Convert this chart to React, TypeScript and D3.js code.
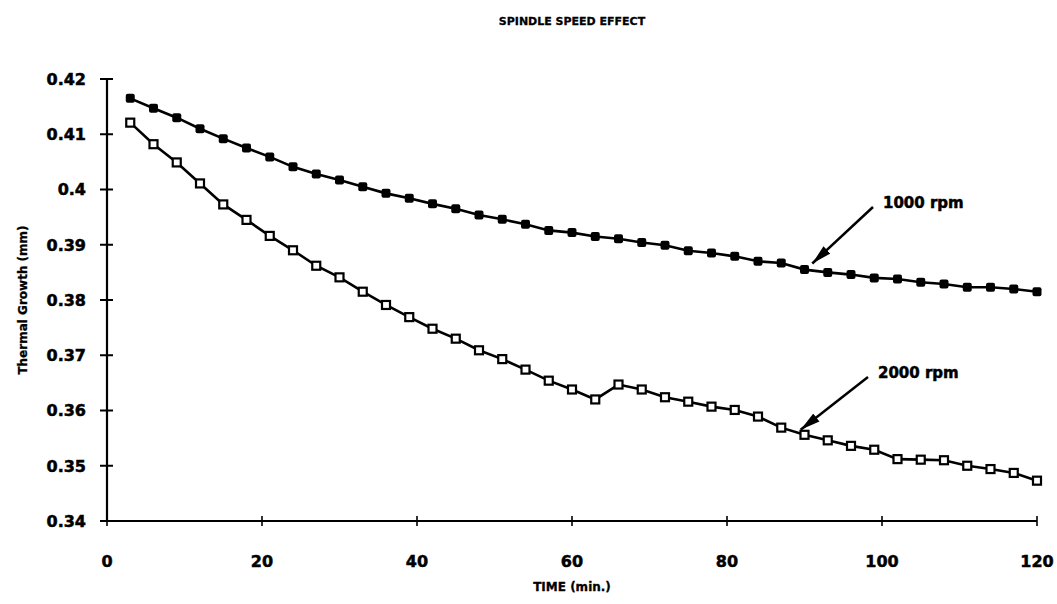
import React from "react";
import * as d3 from "d3";

const times = [3, 6, 9, 12, 15, 18, 21, 24, 27, 30, 33, 36, 39, 42, 45, 48, 51, 54, 57, 60, 63, 66, 69, 72, 75, 78, 81, 84, 87, 90, 93, 96, 99, 102, 105, 108, 111, 114, 117, 120];
const rpm1000 = [0.4165, 0.4147, 0.413, 0.411, 0.4092, 0.4075, 0.4059, 0.4041, 0.4028, 0.4017, 0.4005, 0.3993, 0.3984, 0.3974, 0.3965, 0.3954, 0.3946, 0.3937, 0.3926, 0.3922, 0.3915, 0.3911, 0.3904, 0.3899, 0.3889, 0.3885, 0.3879, 0.387, 0.3867, 0.3855, 0.385, 0.3846, 0.384, 0.3838, 0.3832, 0.3829, 0.3823, 0.3823, 0.382, 0.3815];
const rpm2000 = [0.4121, 0.4082, 0.4049, 0.4011, 0.3973, 0.3945, 0.3916, 0.389, 0.3862, 0.3841, 0.3815, 0.3791, 0.3769, 0.3748, 0.373, 0.3709, 0.3693, 0.3674, 0.3654, 0.3638, 0.362, 0.3647, 0.3638, 0.3624, 0.3616, 0.3607, 0.3601, 0.3589, 0.3569, 0.3556, 0.3546, 0.3536, 0.3529, 0.3512, 0.3511, 0.351, 0.35, 0.3494, 0.3487, 0.3473];
const yTicks = [0.34, 0.35, 0.36, 0.37, 0.38, 0.39, 0.4, 0.41, 0.42];
const xTicks = [0, 20, 40, 60, 80, 100, 120];
const title = "SPINDLE SPEED EFFECT";
const xTitle = "TIME (min.)";
const yTitle = "Thermal Growth (mm)";
const annotations = [
  { label: "1000 rpm", t: 91, v: 0.3866, tx: 883, ty: 203 },
  { label: "2000 rpm", t: 89.5, v: 0.3565, tx: 878, ty: 373 },
];

const W = 1057;
const H = 604;
const FONT = "'DejaVu Sans', 'Liberation Sans', Arial, sans-serif";

export default function App() {
  const x = d3.scaleLinear().domain([0, 120]).range([107, 1037]);
  const y = d3.scaleLinear().domain([0.34, 0.42]).range([521, 79]);
  const line = d3
    .line<number>()
    .x((_, i) => x(times[i]))
    .y((d) => y(d));
  const ms = 9;
  const heavy = { stroke: "#000", strokeWidth: 0.5 };

  return (
    <svg
      width={W}
      height={H}
      style={{ position: "absolute", left: 0, top: 0, background: "#fff" }}
      fontFamily={FONT}
    >
      <defs>
        <marker id="ah" viewBox="0 0 20 10" refX="20" refY="5" markerWidth="8" markerHeight="4.4" orient="auto" markerUnits="strokeWidth">
          <path d="M0,0 L20,5 L0,10 z" fill="#000" />
        </marker>
      </defs>
      <rect x={0} y={0} width={W} height={H} fill="#fff" />
      <text x={(x(0) + x(120)) / 2} y={25} textAnchor="middle" fontSize={11} fontWeight="bold" {...heavy} strokeWidth={0.3}>
        {title}
      </text>

      {/* axes */}
      <line x1={x(0)} x2={x(0)} y1={y(0.42)} y2={y(0.34)} stroke="#000" strokeWidth={2.2} />
      <line x1={x(0)} x2={x(120)} y1={y(0.34)} y2={y(0.34)} stroke="#000" strokeWidth={2.2} />
      {yTicks.map((v) => (
        <g key={"y" + v}>
          <line x1={x(0) - 7} x2={x(0) + 6} y1={y(v)} y2={y(v)} stroke="#000" strokeWidth={2} />
          <text x={x(0) - 21} y={y(v)} dy="0.36em" textAnchor="end" fontSize={16} fontWeight="bold" {...heavy}>
            {String(+v.toFixed(2))}
          </text>
        </g>
      ))}
      {xTicks.map((v) => (
        <g key={"x" + v}>
          <line x1={x(v)} x2={x(v)} y1={y(0.34) - 5} y2={y(0.34) + 5} stroke="#000" strokeWidth={1.6} />
          <text x={x(v)} y={y(0.34) + 46} textAnchor="middle" fontSize={16} fontWeight="bold" {...heavy}>
            {String(v)}
          </text>
        </g>
      ))}
      <text x={x(60)} y={591} textAnchor="middle" fontSize={12} fontWeight="bold" {...heavy} strokeWidth={0.3}>
        {xTitle}
      </text>
      <text transform={`translate(27,${(y(0.34) + y(0.42)) / 2}) rotate(-90)`} textAnchor="middle" fontSize={12} fontWeight="bold" {...heavy} strokeWidth={0.3}>
        {yTitle}
      </text>

      {/* series */}
      <path d={line(rpm1000) || ""} fill="none" stroke="#000" strokeWidth={2.6} />
      <path d={line(rpm2000) || ""} fill="none" stroke="#000" strokeWidth={2.6} />
      {rpm1000.map((v, i) => (
        <rect key={"a" + i} x={x(times[i]) - ms / 2} y={y(v) - ms / 2} width={ms} height={ms} fill="#000" rx={2} />
      ))}
      {rpm2000.map((v, i) => (
        <rect key={"b" + i} x={x(times[i]) - ms / 2 + 0.5} y={y(v) - ms / 2 + 0.5} width={ms - 1} height={ms - 1} fill="#fff" stroke="#000" strokeWidth={2.2} />
      ))}

      {/* annotations */}
      {annotations.map((a) => (
        <g key={a.label}>
          <line x1={a.tx - 10} y1={a.ty + 4} x2={x(a.t)} y2={y(a.v)} stroke="#000" strokeWidth={2.5} markerEnd="url(#ah)" />
          <text x={a.tx} y={a.ty} dy="0.36em" fontSize={15} fontWeight="bold" {...heavy}>
            {a.label}
          </text>
        </g>
      ))}
    </svg>
  );
}
